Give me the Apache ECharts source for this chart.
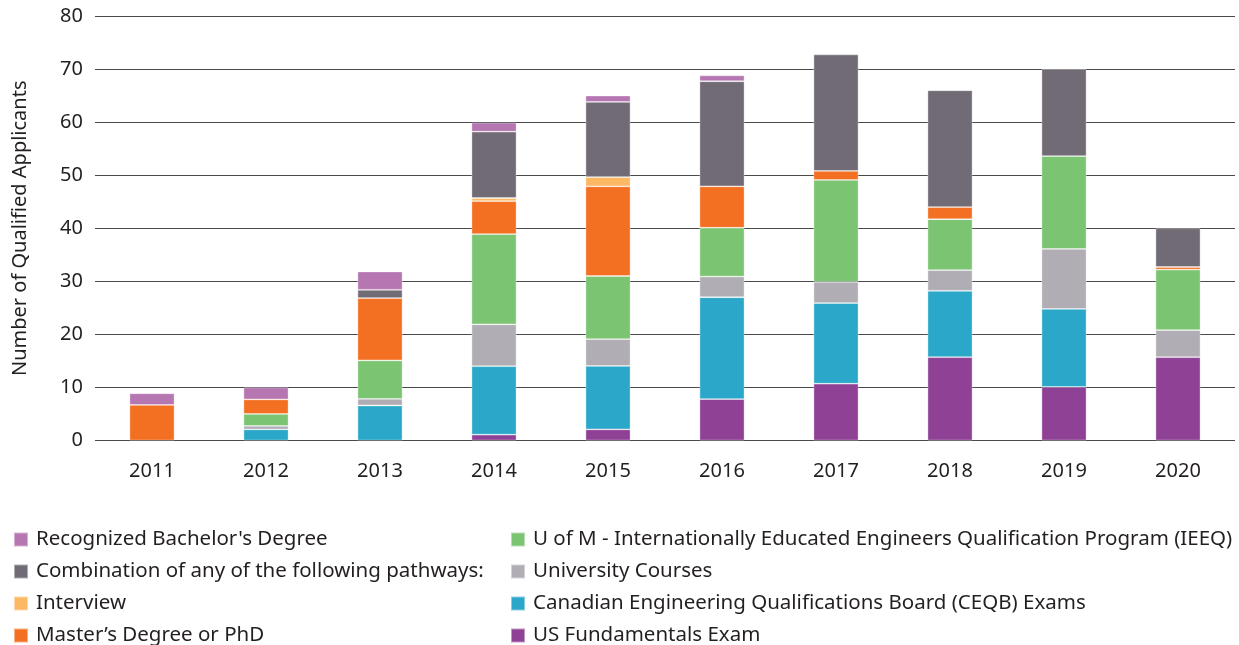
<!DOCTYPE html>
<html>
<head>
<meta charset="utf-8">
<script src="https://cdn.jsdelivr.net/npm/echarts@6/dist/echarts.min.js"></script>
<style>
  html, body { margin: 0; padding: 0; background: #fff; }
  #chart { width: 1239px; height: 645px; }
</style>
</head>
<body>
<div id="chart"></div>
<script>
var years = ['2011', '2012', '2013', '2014', '2015', '2016', '2017', '2018', '2019', '2020'];
var yTicks = [0, 10, 20, 30, 40, 50, 60, 70, 80];

// stacked bottom -> top
var usFundamentals = [null, null, null, 1.1, 2.1, 7.8, 10.7, 15.7, 10.1, 15.7];
var ceqbExams = [null, 2.1, 6.6, 12.9, 11.95, 19.2, 15.2, 12.5, 14.7, null];
var universityCourses = [null, 0.65, 1.25, 7.9, 5.05, 3.9, 4.0, 3.9, 11.3, 5.1];
var ieeq = [null, 2.25, 7.25, 17.0, 11.9, 9.2, 19.2, 9.6, 17.5, 11.4];
var mastersPhd = [6.7, 2.75, 11.75, 6.2, 16.9, 7.8, 1.7, 2.3, null, 0.5];
var interview = [null, null, null, 0.6, 1.75, null, null, null, null, null];
var combination = [null, null, 1.55, 12.5, 14.15, 19.8, 21.95, 22.0, 16.4, 7.3];
var bachelors = [2.2, 2.25, 3.45, 1.7, 1.2, 1.1, null, null, null, null];

var names = {
  us: 'US Fundamentals Exam',
  ceqb: 'Canadian Engineering Qualifications Board (CEQB) Exams',
  uni: 'University Courses',
  ieeq: 'U of M - Internationally Educated Engineers Qualification Program (IEEQ)',
  masters: 'Master\u2019s Degree or PhD',
  interview: 'Interview',
  combo: 'Combination of any of the following pathways:',
  bachelor: "Recognized Bachelor's Degree"
};

var font = '"Noto Sans", Lato, sans-serif';
var textColor = '#231f20';

function bar(name, data, color) {
  return {
    name: name,
    type: 'bar',
    stack: 'total',
    barWidth: 45,
    data: data,
    itemStyle: { color: color, borderColor: 'rgba(255,255,255,0.45)', borderWidth: 0.8 },
    emphasis: { disabled: true }
  };
}

var legendText = { fontSize: 20.5, color: textColor, fontFamily: font, padding: [0, 0, 0, 3] };

var chart = echarts.init(document.getElementById('chart'));
chart.setOption({
  animation: false,
  textStyle: { fontFamily: font },
  grid: { left: 95, right: 4, top: 16, bottom: 204.5 },
  legend: [
    {
      orient: 'vertical', left: 13, top: 529, height: 200, padding: 0,
      itemWidth: 14, itemHeight: 14, itemGap: 11, icon: 'rect',
      textStyle: legendText,
      data: [names.bachelor, names.combo, names.interview, names.masters]
    },
    {
      orient: 'vertical', left: 510, top: 529, height: 200, padding: 0,
      itemWidth: 14, itemHeight: 14, itemGap: 11, icon: 'rect',
      textStyle: legendText,
      data: [names.ieeq, names.uni, names.ceqb, names.us]
    }
  ],
  xAxis: {
    type: 'category',
    data: years,
    axisLine: { show: false },
    axisTick: { show: false },
    axisLabel: { fontSize: 20, color: textColor, margin: 21, fontFamily: font }
  },
  yAxis: {
    type: 'value',
    min: yTicks[0],
    max: yTicks[yTicks.length - 1],
    interval: 10,
    name: 'Number of Qualified Applicants',
    nameLocation: 'middle',
    nameGap: 65,
    nameTextStyle: { fontSize: 20, color: textColor, fontFamily: font },
    axisLine: { show: false },
    axisTick: { show: false },
    axisLabel: { fontSize: 20, color: textColor, margin: 12, fontFamily: font },
    splitLine: { lineStyle: { color: '#4a4a4a', width: 1 } }
  },
  series: [
    bar(names.us, usFundamentals, '#8e4195'),
    bar(names.ceqb, ceqbExams, '#2ba8c9'),
    bar(names.uni, universityCourses, '#b0aeb4'),
    bar(names.ieeq, ieeq, '#7bc472'),
    bar(names.masters, mastersPhd, '#f36f21'),
    bar(names.interview, interview, '#fdb863'),
    bar(names.combo, combination, '#716b76'),
    bar(names.bachelor, bachelors, '#b576b1')
  ]
});
</script>
</body>
</html>
